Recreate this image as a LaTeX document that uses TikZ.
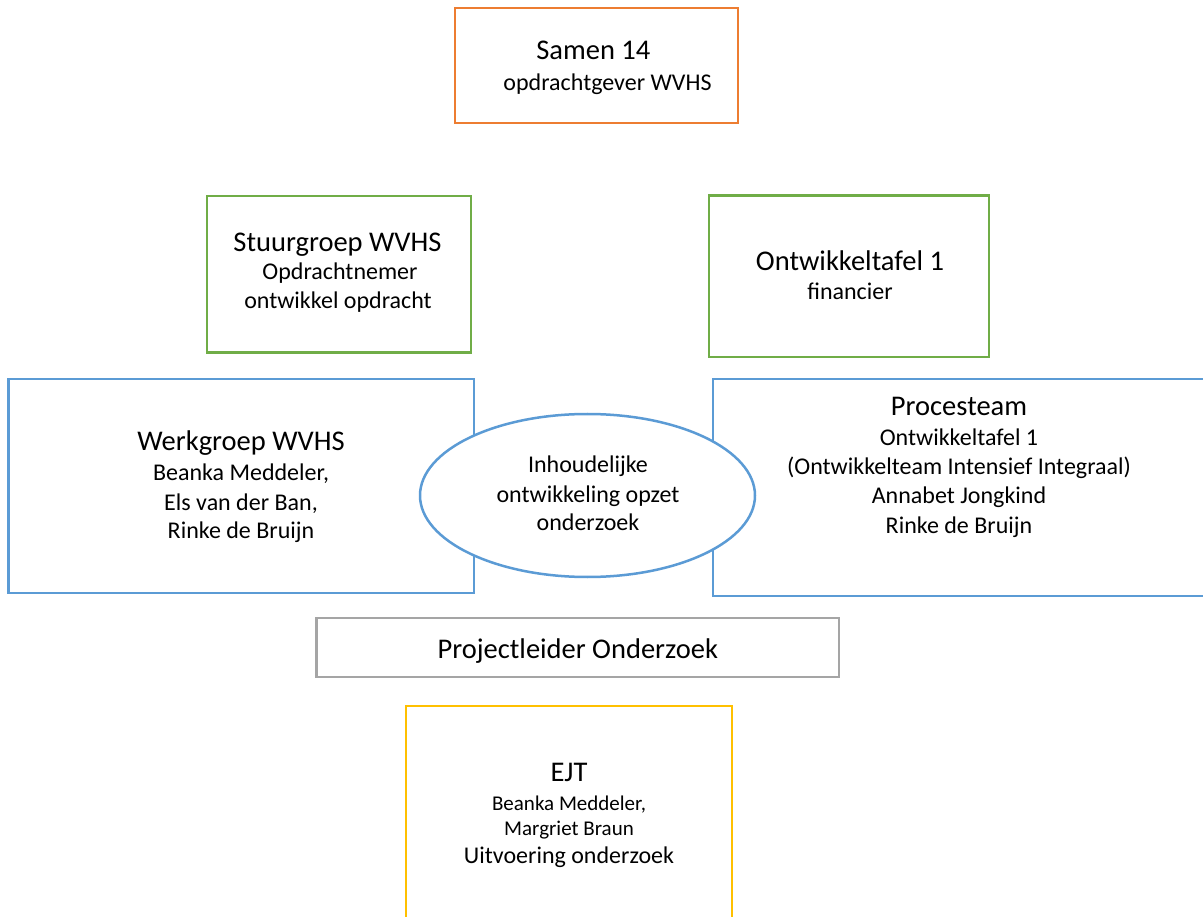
\documentclass[tikz,border=0pt]{standalone}
\usepackage{fontspec}
\setmainfont{Carlito}
\usetikzlibrary{shapes.geometric}
\definecolor{orgC}{HTML}{ED7D31}
\definecolor{grnC}{HTML}{70AD47}
\definecolor{bluC}{HTML}{5B9BD5}
\definecolor{gryC}{HTML}{A5A5A5}
\definecolor{gldC}{HTML}{FFC000}
\tikzset{
  box/.style={draw, rectangle, line width=2.5pt, inner sep=0pt, fill=white},
  bigtxt/.style={anchor=base, inner sep=0pt, font=\fontsize{28.5}{34}\selectfont},
  smalltxt/.style={anchor=base, inner sep=0pt, font=\fontsize{24}{29}\selectfont},
  tinytxt/.style={anchor=base, inner sep=0pt, font=\fontsize{21}{25}\selectfont},
}
\begin{document}
\begin{tikzpicture}[x=1pt,y=-1pt]
\useasboundingbox (0,0) rectangle (1203,917);
\clip (0,0) rectangle (1203,917);
\fill[white] (0,0) rectangle (1203,917);

% boxes
\node[box, draw=orgC, minimum width=283pt, minimum height=115pt] (s14) at (596.5,65.7) {};
\node[box, draw=grnC, minimum width=264.3pt, minimum height=156.7pt] (stuur) at (339,274.3) {};
\node[box, draw=grnC, minimum width=279.7pt, minimum height=161.3pt] (ontw) at (848.9,276.4) {};
\node[box, draw=bluC, minimum width=465.7pt, minimum height=213.7pt] (werk) at (241.2,486) {};
\node[box, draw=bluC, minimum width=502.3pt, minimum height=217pt] (proc) at (963.9,487.5) {};
\node[draw=bluC, ellipse, line width=2.5pt, fill=white, inner sep=0pt, minimum width=335pt, minimum height=163pt] (ell) at (587.5,495.5) {};
\node[box, draw=gryC, minimum width=522.7pt, minimum height=58.8pt] (proj) at (577.8,647.6) {};
\node[box, draw=gldC, minimum width=325.7pt, minimum height=224pt] (ejt) at (568.9,818) {};

% texts
\node[bigtxt] (s14a) at (593.3,60) {Samen 14};
\node[smalltxt] (s14b) at (607.5,90.7) {opdrachtgever WVHS};

\node[bigtxt] (stuura) at (337.5,251.7) {Stuurgroep WVHS};
\node[smalltxt] (stuurb) at (340,280) {Opdrachtnemer};
\node[smalltxt] (stuurc) at (338,309) {ontwikkel opdracht};

\node[bigtxt] (ontwa) at (850,271) {Ontwikkeltafel 1};
\node[smalltxt] (ontwb) at (850,300) {financier};

\node[bigtxt] (werka) at (241,450) {Werkgroep WVHS};
\node[smalltxt] (werkb) at (241,480.7) {Beanka Meddeler,};
\node[smalltxt] (werkc) at (241,510) {Els van der Ban,};
\node[smalltxt] (werkd) at (241,538) {Rinke de Bruijn};

\node[bigtxt] (proca) at (959,415.7) {Procesteam};
\node[smalltxt] (procb) at (959,446) {Ontwikkeltafel 1};
\node[smalltxt] (procc) at (959,475) {(Ontwikkelteam Intensief Integraal)};
\node[smalltxt] (procd) at (959,503) {Annabet Jongkind};
\node[smalltxt] (proce) at (959,533) {Rinke de Bruijn};

\node[smalltxt] (ella) at (588,472) {Inhoudelijke};
\node[smalltxt] (ellb) at (588,502) {ontwikkeling opzet};
\node[smalltxt] (ellc) at (588,530) {onderzoek};

\node[bigtxt] (proja) at (577.8,658) {Projectleider Onderzoek};

\node[bigtxt] (ejta) at (569,781.7) {EJT};
\node[tinytxt] (ejtb) at (569,810) {Beanka Meddeler,};
\node[tinytxt] (ejtc) at (569,835) {Margriet Braun};
\node[smalltxt] (ejtd) at (569,863.3) {Uitvoering onderzoek};
\end{tikzpicture}
\end{document}
